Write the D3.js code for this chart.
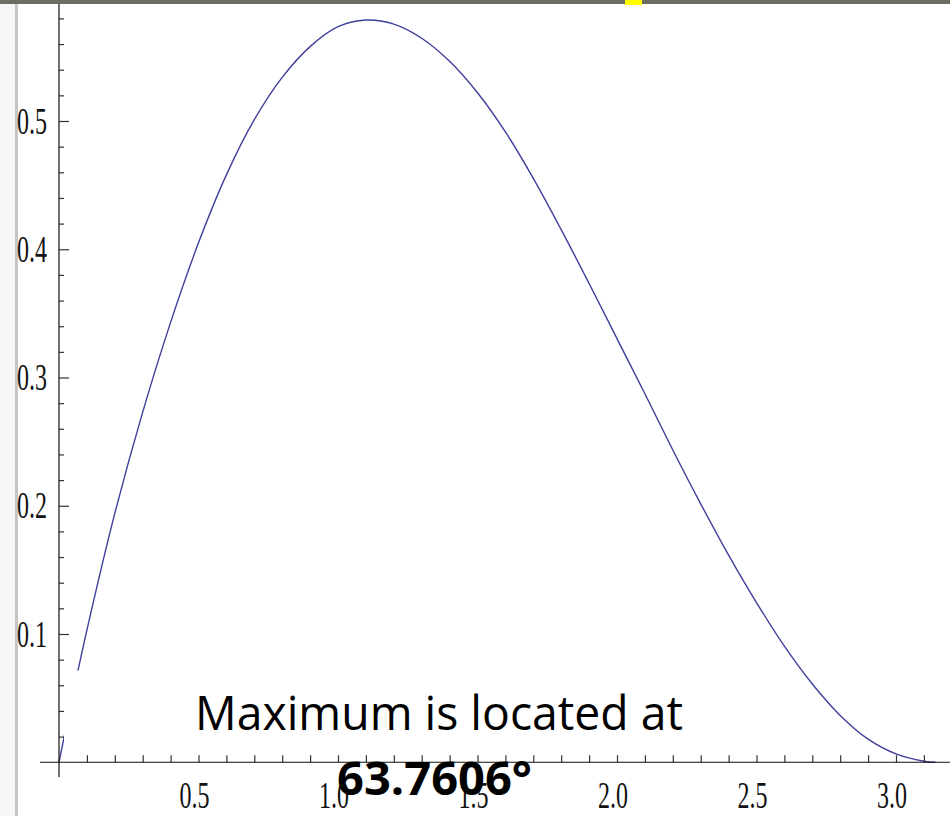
<!DOCTYPE html>
<html>
<head>
<meta charset="utf-8">
<script src="https://cdn.jsdelivr.net/npm/d3@7"></script>
<style>
  html, body { margin: 0; padding: 0; background: #fff; }
  svg { display: block; }
</style>
</head>
<body>
<div id="chart"></div>
<script>
// Curve points (angle in radians, value)
const angles = [0, 0.05, 0.1, 0.2, 0.3, 0.4, 0.5, 0.6, 0.7, 0.8, 0.9, 1.0, 1.1,
  1.2, 1.3, 1.4, 1.5, 1.6, 1.7, 1.8, 1.9, 2.0, 2.1, 2.2, 2.3, 2.4, 2.5, 2.6, 2.7, 2.8,
  2.9, 3.0, 3.1, 3.1416];
const values = [0, 0.053, 0.103, 0.194, 0.273, 0.343, 0.405, 0.458, 0.501, 0.534, 0.558,
  0.5735, 0.5787, 0.5755, 0.5645, 0.5465, 0.522, 0.4915, 0.4553, 0.4153, 0.3733,
  0.3303, 0.2873, 0.2435, 0.2015, 0.1615, 0.1245, 0.0905, 0.061, 0.0365, 0.018, 0.0065,
  0.0008, 0];

const xTickValues = [0.5, 1.0, 1.5, 2.0, 2.5, 3.0];
const xTickLabels = ["0.5", "1.0", "1.5", "2.0", "2.5", "3.0"];
const yTickValues = [0.1, 0.2, 0.3, 0.4, 0.5];
const yTickLabels = ["0.1", "0.2", "0.3", "0.4", "0.5"];

const caption1 = "Maximum is located at";
const caption2 = "63.7606°";

const width = 950;
const height = 816;

const svg = d3.select("#chart")
  .append("svg")
  .attr("width", width)
  .attr("height", height);

// scales (0 at x=59, y=762)
const x = d3.scaleLinear().domain([0, 3.1]).range([59, 59 + 279 * 3.1]);
const y = d3.scaleLinear().domain([0, 0.58]).range([762.25, 762.25 - 1282.5 * 0.58]);

// window chrome bits around the screenshot
svg.append("rect").attr("x", 0).attr("y", 0).attr("width", 16).attr("height", height).attr("fill", "#f6f6f6");
svg.append("line").attr("x1", 16.5).attr("x2", 16.5).attr("y1", 0).attr("y2", height)
  .attr("stroke", "#c6c6c6").attr("stroke-width", 3);
svg.append("rect").attr("x", 0).attr("y", 0).attr("width", width).attr("height", 4).attr("fill", "#6e6e60");
svg.append("rect").attr("x", 625).attr("y", 0).attr("width", 17).attr("height", 5).attr("fill", "#ffff00");

// curve
const line = d3.line()
  .x((d, i) => x(angles[i]))
  .y(d => y(d))
  .curve(d3.curveCatmullRom.alpha(0.5));

svg.append("path")
  .datum(values)
  .attr("d", line)
  .attr("fill", "none")
  .attr("stroke", "#3f3f9c")
  .attr("stroke-width", 1.4);

// y axis: minor ticks every 0.02, major every 0.1
const yMinor = d3.range(1, 30).map(i => +(i * 0.02).toFixed(2)).filter(v => Math.round(v * 100) % 10 !== 0);
const yAxisMinor = svg.append("g")
  .attr("transform", `translate(${x(0)},0)`)
  .call(d3.axisRight(y).tickValues(yMinor).tickSize(5).tickFormat(""));
const yAxisMajor = svg.append("g")
  .attr("transform", `translate(${x(0)},0)`)
  .call(d3.axisRight(y).tickValues(yTickValues).tickSize(10).tickFormat(""));
[yAxisMinor, yAxisMajor].forEach(g => {
  g.select(".domain").remove();
  g.selectAll("line").attr("stroke", "#333").attr("stroke-width", 1.2);
});
svg.append("line")
  .attr("x1", x(0)).attr("x2", x(0))
  .attr("y1", 4).attr("y2", 777)
  .attr("stroke", "#111").attr("stroke-width", 1.2);

// x axis: ticks every 0.1
const xMinor = d3.range(1, 32).map(i => i / 10);
const xAxis = svg.append("g")
  .attr("transform", `translate(0,${y(0)})`)
  .call(d3.axisTop(x).tickValues(xMinor).tickSize(7).tickFormat(""));
xAxis.select(".domain").remove();
xAxis.selectAll("line").attr("stroke", "#333").attr("stroke-width", 1.2);
svg.append("line")
  .attr("x1", 40).attr("x2", width)
  .attr("y1", y(0)).attr("y2", y(0))
  .attr("stroke", "#111").attr("stroke-width", 1.2);

// tick labels (condensed serif, like the stretched screenshot)
const labelFont = "'Liberation Serif', 'DejaVu Serif', serif";
svg.append("g").selectAll("text")
  .data(yTickValues)
  .enter()
  .append("text")
  .attr("transform", d => `translate(47,${y(d) + 12.5}) scale(0.65,1)`)
  .attr("text-anchor", "end")
  .attr("font-family", labelFont)
  .attr("font-size", 37)
  .attr("fill", "#111")
  .text((d, i) => yTickLabels[i]);

svg.append("g").selectAll("text")
  .data(xTickValues)
  .enter()
  .append("text")
  .attr("transform", d => `translate(${x(d) - 4},808) scale(0.65,1)`)
  .attr("text-anchor", "middle")
  .attr("font-family", labelFont)
  .attr("font-size", 37)
  .attr("fill", "#111")
  .text((d, i) => xTickLabels[i]);

// white text box that hides part of the curve
svg.append("rect")
  .attr("x", 64).attr("y", 670.5)
  .attr("width", 801 - 64).attr("height", 75)
  .attr("fill", "#fff");

svg.append("text")
  .attr("x", 195).attr("y", 730)
  .attr("font-family", "'Open Sans', 'Noto Sans', sans-serif")
  .attr("font-size", 47)
  .attr("textLength", 488)
  .attr("lengthAdjust", "spacingAndGlyphs")
  .attr("fill", "#000")
  .text(caption1);

svg.append("text")
  .attr("x", 337).attr("y", 795)
  .attr("font-family", "'Open Sans', 'Noto Sans', sans-serif")
  .attr("font-weight", "bold")
  .attr("font-size", 46)
  .attr("textLength", 195)
  .attr("lengthAdjust", "spacingAndGlyphs")
  .attr("fill", "#000")
  .text(caption2);
</script>
</body>
</html>
